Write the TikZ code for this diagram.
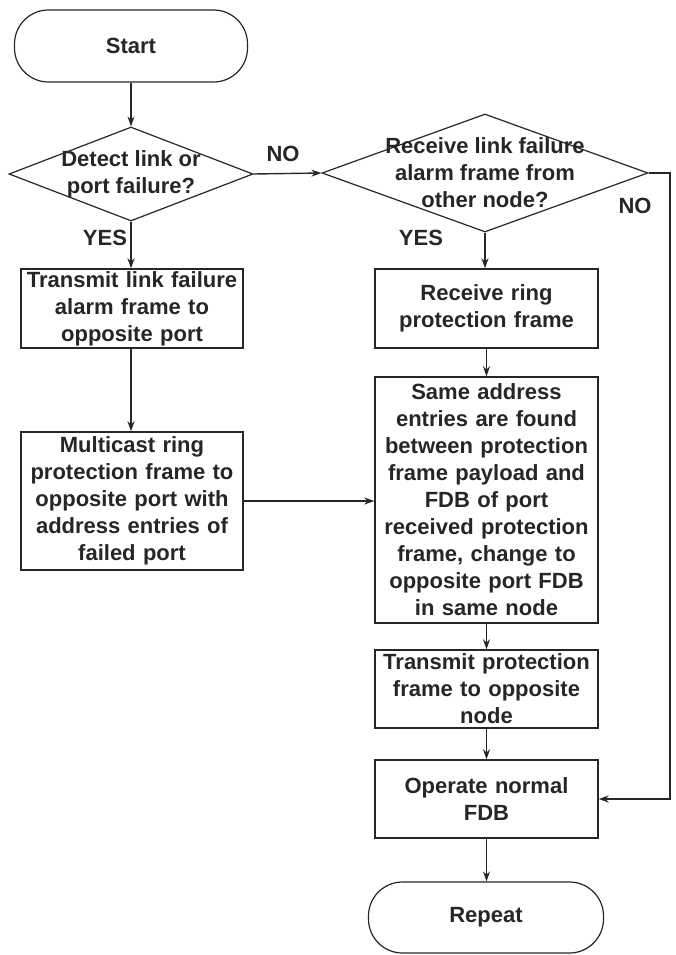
\documentclass[tikz,border=0pt]{standalone}
\usepackage{fontspec}
\setmainfont{Liberation Sans}
\usetikzlibrary{arrows.meta,shapes.geometric}
\definecolor{ink}{HTML}{262626}
\tikzset{
  x=1pt, y=-1pt,
  every node/.style={font=\bfseries\fontsize{22}{27}\selectfont, text=ink},
  flowline/.style={draw=ink, line width=1.4pt},
  arrowline/.style={flowline, -{Stealth[length=10pt,width=7pt]}},
  procbox/.style={draw=ink, line width=1.4pt, rectangle, inner sep=0pt, align=center, text width=222pt},
  terminal/.style={draw=ink, line width=1.2pt, rectangle, rounded corners=34pt, inner sep=0pt},
  decision/.style={draw=ink, line width=1.2pt, diamond, inner sep=0pt},
  tag/.style={inner sep=0pt}
}
\begin{document}
\begin{tikzpicture}
\useasboundingbox (0,0) rectangle (675,955);

% terminals
\node[terminal, minimum width=233pt, minimum height=72pt] (start) at (131,46) {Start};
\node[terminal, minimum width=235pt, minimum height=71pt] (repeat) at (486,917.5) {Repeat};

% decisions
\node[decision, minimum width=244pt, minimum height=94pt,
      label={[align=center, inner sep=0pt]center:Detect link or\\port failure?}] (detect) at (131,174) {};
\node[decision, minimum width=326pt, minimum height=118pt,
      label={[align=center, inner sep=0pt]center:Receive link failure\\alarm frame from\\other node?}] (receive) at (485,173) {};

% left column
\node[procbox, minimum width=222pt, minimum height=79pt] (alarm) at (132,308.5)
  {Transmit link failure\\alarm frame to\\opposite port};
\node[procbox, minimum width=222pt, minimum height=138pt] (multicast) at (132,501)
  {Multicast ring\\protection frame to\\opposite port with\\address entries of\\failed port};

% right column
\node[procbox, minimum width=223pt, minimum height=79pt] (ring) at (486.5,308.5)
  {Receive ring\\protection frame};
\node[procbox, minimum width=223pt, minimum height=246pt] (fdb) at (486.5,500)
  {Same address\\entries are found\\between protection\\frame payload and\\FDB of port\\received protection\\frame, change to\\opposite port FDB\\in same node};
\node[procbox, minimum width=223pt, minimum height=78pt] (transmit) at (486.5,689)
  {Transmit protection\\frame to opposite\\node};
\node[procbox, minimum width=223pt, minimum height=78pt] (normal) at (486.5,799)
  {Operate normal\\FDB};

% branch labels
\node[tag] (no1) at (283,154) {NO};
\node[tag] (yes1) at (105,238) {YES};
\node[tag] (yes2) at (421,238) {YES};
\node[tag] (no2) at (635,206) {NO};

% connectors
\coordinate (bendtop) at (670,173);
\coordinate (bendbot) at (670,799);
\draw[arrowline] (start.south) -- (detect.north);
\draw[arrowline] (detect.east) -- (receive.west);
\draw[arrowline] (detect.south) -- (alarm.north -| detect.south);
\draw[arrowline] (alarm.south -| detect.south) -- (multicast.north -| detect.south);
\draw[arrowline] (multicast.east) -- (fdb.west |- multicast.east);
\draw[arrowline] (receive.south) -- (ring.north -| receive.south);
\draw[arrowline] (ring.south) -- (fdb.north);
\draw[arrowline] (fdb.south) -- (transmit.north);
\draw[arrowline] (transmit.south) -- (normal.north);
\draw[arrowline] (normal.south) -- (repeat.north -| normal.south);
\draw[arrowline] (receive.east) -- (bendtop) -- (bendbot) -- (normal.east);
\end{tikzpicture}
\end{document}
